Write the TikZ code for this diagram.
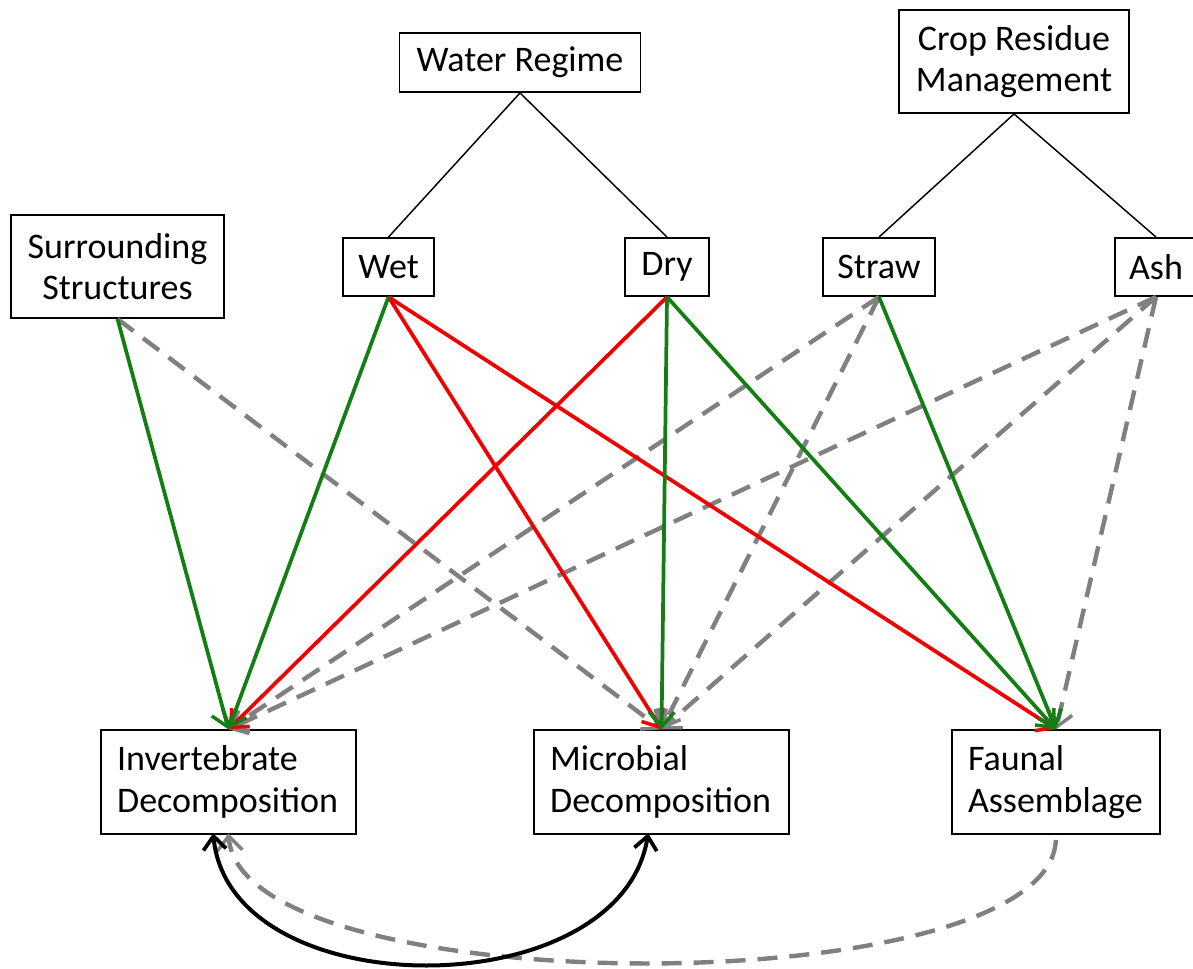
\documentclass[tikz,border=0pt]{standalone}
\usepackage{fontspec}
\setmainfont{Carlito}
\usepackage{xcolor}
\usetikzlibrary{arrows.meta}

\definecolor{effgreen}{RGB}{20,125,20}
\definecolor{effred}{RGB}{240,0,0}
\definecolor{effgray}{RGB}{128,128,128}

\begin{document}
\begin{tikzpicture}[x=0.75pt,y=0.75pt,yscale=-1,xscale=1,
  box/.style={draw,line width=1.4pt,inner sep=0pt,align=center,
    font=\fontsize{27}{31}\selectfont},
  respbox/.style={box,align=left,inner xsep=12pt,minimum height=77.5pt},
  tree/.style={line width=1.1pt},
  opentip/.style={-{Straight Barb[length=11pt,width=19pt,line width=2.6pt]}},
  poseff/.style={opentip,draw=effgreen,line width=2.8pt},
  negeff/.style={opentip,draw=effred,line width=2.8pt},
  nseff/.style={opentip,draw=effgray,line width=3.3pt,dash pattern=on 15pt off 9pt}]
%set diagram size
\clip (0,0) rectangle (1193,968);
\path (0,0) rectangle (1193,968);

%Factors
\node[box,minimum width=180.75pt,minimum height=44.25pt] (water) at (520,62.5) {Water Regime};
\node[box,minimum width=172.5pt,minimum height=77.25pt] (crop) at (1014,61.5) {Crop Residue\\Management};
\node[box,minimum width=159.75pt,minimum height=77.25pt] (surr) at (117.5,266.5) {Surrounding\\Structures};
\node[box,minimum width=68.25pt,minimum height=43.5pt] (wet) at (388.5,267) {Wet};
\node[box,minimum width=63pt,minimum height=43.5pt] (dry) at (667,267) {Dry};
\node[box,minimum width=84pt,minimum height=43.5pt] (straw) at (879,267) {Straw};
\node[box,minimum width=61.5pt,minimum height=43.5pt] (ash) at (1156,267) {Ash};

%Responses
\node[respbox,text width=167pt] (inv) at (228.5,782) {Invertebrate\\Decomposition};
\node[respbox,text width=167pt] (mic) at (661.5,782) {Microbial\\Decomposition};
\node[respbox,text width=132pt] (fau) at (1056,782) {Faunal\\Assemblage};

%Levels
\draw[tree] (water.south) -- (wet.north);
\draw[tree] (water.south) -- (dry.north);
\draw[tree] (crop.south) -- (straw.north);
\draw[tree] (crop.south) -- (ash.north);

%Effects (dashed first)
\draw[nseff] (surr.south) -- (mic.north);
\draw[nseff] (straw.south) -- (inv.north);
\draw[nseff] (straw.south) -- (mic.north);
\draw[nseff] (ash.south) -- (inv.north);
\draw[nseff] (ash.south) -- (mic.north);
\draw[nseff] (ash.south) -- (fau.north);
\draw[negeff] (wet.south) -- (mic.north);
\draw[negeff] (wet.south) -- (fau.north);
\draw[negeff] (dry.south) -- (inv.north);
\draw[poseff] (surr.south) -- (inv.north);
\draw[poseff] (wet.south) -- (inv.north);
\draw[poseff] (dry.south) -- (mic.north);
\draw[poseff] (dry.south) -- (fau.north);
\draw[poseff] (straw.south) -- (fau.north);

%Links between responses
\coordinate (invb) at ([xshift=-11.5pt,yshift=-1pt]inv.south);
\coordinate (micb) at ([xshift=-10pt,yshift=-1pt]mic.south);
\draw[nseff,shorten <=4pt] (fau.south) .. controls (1050,1005) and (240,1005) .. ([yshift=-1pt]inv.south);
\draw[draw=black,line width=3pt,{Straight Barb[length=10pt,width=17pt,line width=2.8pt]}-{Straight Barb[length=10pt,width=17pt,line width=2.8pt]}] (invb) .. controls (230,1008) and (620,1008) .. (micb);

\end{tikzpicture}
\end{document}
